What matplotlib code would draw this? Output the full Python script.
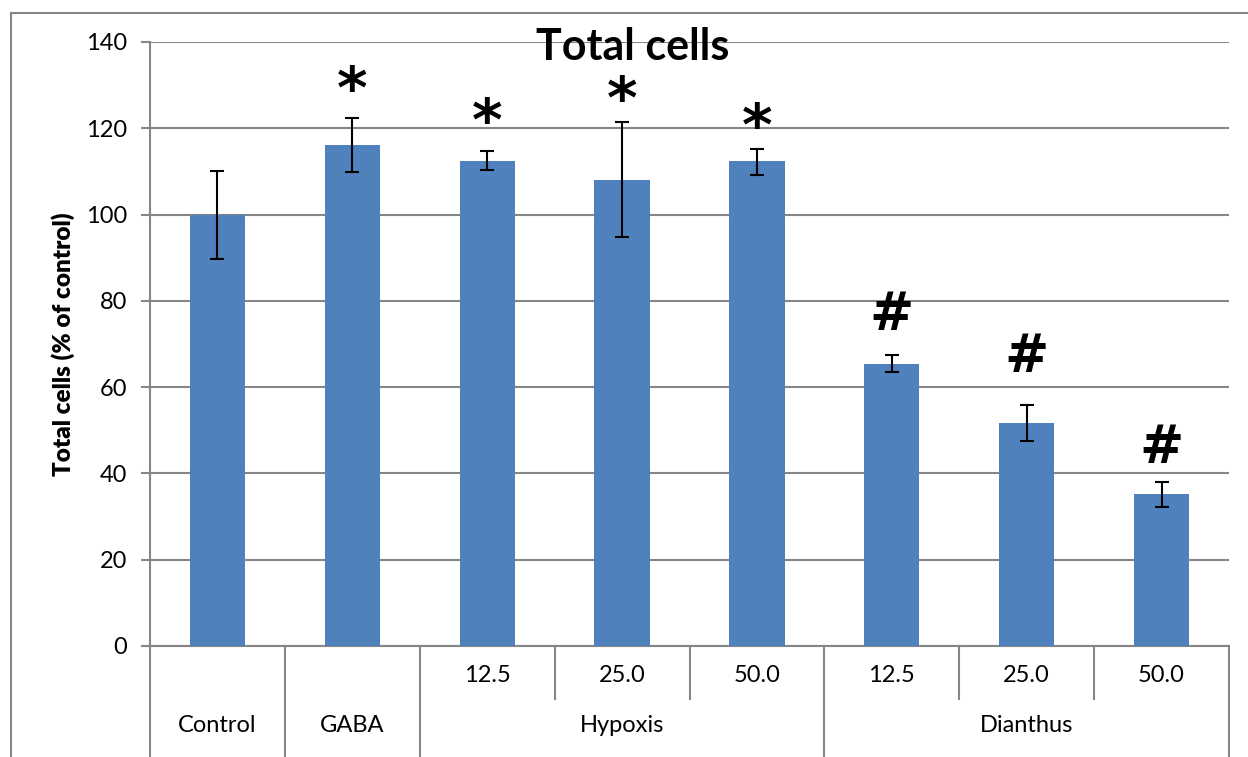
import numpy as np
import matplotlib.pyplot as plt
import matplotlib.transforms as mtransforms
from matplotlib.lines import Line2D

plt.rcParams['font.family'] = ['Lato', 'DejaVu Sans']

# data
groups = ['Control', 'GABA', 'Hypoxis', 'Dianthus']
doses = ['', '', '12.5', '25.0', '50.0', '12.5', '25.0', '50.0']
values = [100.0, 116.1, 112.4, 108.0, 112.4, 65.4, 51.7, 35.2]
err_low = [89.8, 109.9, 110.3, 94.8, 109.2, 63.5, 47.5, 32.2]
err_high = [110.1, 122.5, 114.7, 121.5, 115.2, 67.5, 55.9, 38.0]
marks = ['', '*', '*', '*', '*', '#', '#', '#']
mark_y = [0, 131.4, 124.0, 128.9, 122.8, 76.7, 66.9, 46.0]

W, H = 1248, 757
fig = plt.figure(figsize=(W / 100, H / 100), dpi=100)
x0, x1, ytop, ybot = 150, 1229, 42, 646
ax = fig.add_axes([x0 / W, 1 - ybot / H, (x1 - x0) / W, (ybot - ytop) / H])

grey = '#868686'
bar_col = '#4F81BD'
x = np.arange(len(values))
vals = np.array(values)
yerr = [vals - np.array(err_low), np.array(err_high) - vals]

ax.bar(x, vals, width=0.41, color=bar_col, zorder=3)
ax.errorbar(x, vals, yerr=yerr, fmt='none', ecolor='black', elinewidth=1.5,
            capsize=5, capthick=1.5, zorder=4)

ax.set_xlim(-0.5, len(values) - 0.5)
ax.set_ylim(0, 140)
ax.set_yticks(np.arange(0, 141, 20))
ax.yaxis.grid(True, color=grey, linewidth=1.5, zorder=0)
ax.set_axisbelow(True)
ax.set_xticks([])
for s in ['top', 'right']:
    ax.spines[s].set_visible(False)
for s in ['left', 'bottom']:
    ax.spines[s].set_color(grey)
    ax.spines[s].set_linewidth(1.5)
ax.tick_params(axis='y', direction='out', length=6.5, width=1.5, color=grey,
               labelsize=17, pad=10)

ax.set_ylabel('Total cells (% of control)', fontsize=17.5, fontweight='heavy', labelpad=8)

# significance marks
star_tr = mtransforms.offset_copy(ax.transData, fig=fig, y=-12, units='dots')
for i, m in enumerate(marks):
    if m == '*':
        ax.text(x[i], mark_y[i], m, ha='center', va='center', fontsize=42,
                fontweight='bold', family='DejaVu Sans', transform=star_tr)
    elif m == '#':
        ax.text(x[i], mark_y[i], m, ha='center', va='center', fontsize=38,
                fontweight='bold', family='DejaVu Sans')

# category table below the axis
tr = ax.get_xaxis_transform()
row1 = -(699 - ybot) / (ybot - ytop)
bottom = -(H - ybot + 5) / (ybot - ytop)
long_lines = [-0.5, 0.5, 1.5, 4.5, 7.5]
short_lines = [2.5, 3.5, 5.5, 6.5]
for b in long_lines:
    ax.plot([b, b], [0, bottom], transform=tr, color=grey, lw=1.5, clip_on=False)
for b in short_lines:
    ax.plot([b, b], [0, row1], transform=tr, color=grey, lw=1.5, clip_on=False)

y_dose = -(675 - ybot) / (ybot - ytop)
y_group = -(725 - ybot) / (ybot - ytop)
for i, d in enumerate(doses):
    if d:
        ax.text(x[i], y_dose, d, transform=tr, ha='center', va='center', fontsize=17)
group_pos = [0, 1, 3, 6]
for g, p in zip(groups, group_pos):
    ax.text(p, y_group, g, transform=tr, ha='center', va='center', fontsize=17)

# title and outer chart frame
fig.text(633 / W, 1 - 47 / H, 'Total cells', ha='center', va='center',
         fontsize=31, fontweight='bold')
fig.add_artist(Line2D([11 / W, 11 / W], [0, 1 - 13 / H], color=grey, lw=1.5))
fig.add_artist(Line2D([11 / W, 1], [1 - 13 / H, 1 - 13 / H], color=grey, lw=1.5))

fig.savefig('out.png', dpi=100)
